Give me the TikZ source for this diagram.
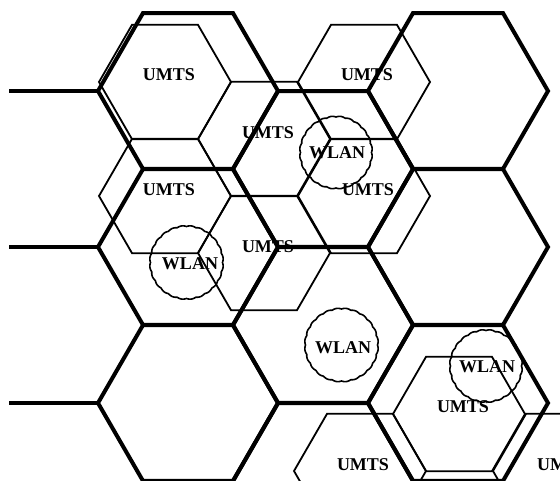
\documentclass[tikz,border=0pt]{standalone}
\usepackage{fontspec}
\setmainfont{Liberation Serif}
\begin{document}
\begin{tikzpicture}[x=1pt, y=-1pt,
  macro/.style={line width=4pt, line join=miter},
  micro/.style={line width=1.8pt, line join=miter},
  lbl/.style={font=\fontsize{18}{20}\selectfont\bfseries, inner sep=0pt},
  hotspot/.style={line width=1.6pt}]
% canvas
\useasboundingbox (0,0) rectangle (560,481);
\clip (0,0) rectangle (560,481);
\fill[white] (0,0) rectangle (560,481);

% flat-topped hexagonal cell: style, centre x, centre y, radius
\newcommand\cellhex[4]{%
  \draw[#1, shift={(#2,#3)}] (0:#4) -- (60:#4) -- (120:#4) -- (180:#4)
    -- (240:#4) -- (300:#4) -- cycle;}
% hot-spot outline with small scallops
\newcommand\hotspotring[3]{%
  \draw[hotspot, shift={(#1,#2)}] plot[domain=0:360, samples=241, smooth]
    (\x:{#3 + 0.9*abs(sin(12*\x))}) -- cycle;}

% macro cell layer
\foreach \cx/\cy in {188/91, 188/247, 188/403,
                     323/169, 323/325, 323/481,
                     458/91, 458/247, 458/403}
  {\cellhex{macro}{\cx}{\cy}{90}}
\coordinate (e1) at (9,91);  \coordinate (v1) at (98,91);
\coordinate (e2) at (9,247); \coordinate (v2) at (98,247);
\coordinate (e3) at (9,403); \coordinate (v3) at (98,403);
\draw[macro] (e1) -- (v1);
\draw[macro] (e2) -- (v2);
\draw[macro] (e3) -- (v3);

% UMTS micro cells, upper cluster
\foreach \cx/\cy in {165/82, 165/196, 264/139, 264/253, 364/82, 364/196}
  {\cellhex{micro}{\cx}{\cy}{66}}
% UMTS micro cells, lower cluster
\foreach \cx/\cy in {459/414, 360/471, 559/471}
  {\cellhex{micro}{\cx}{\cy}{66}}

% cell labels
\node[lbl] (u1) at (169,75)  {UMTS};
\node[lbl] (u2) at (367,75)  {UMTS};
\node[lbl] (u3) at (268,133) {UMTS};
\node[lbl] (u4) at (169,190) {UMTS};
\node[lbl] (u5) at (368,190) {UMTS};
\node[lbl] (u6) at (268,247) {UMTS};
\node[lbl] (u7) at (463,407) {UMTS};
\node[lbl] (u8) at (363,465) {UMTS};
\node[lbl, anchor=west] (u9) at (537,465) {UMTS};

% WLAN hot spots
\hotspotring{336}{152.5}{35.5}
\hotspotring{186.5}{262.5}{36}
\hotspotring{341.5}{345}{36}
\hotspotring{486}{366}{35.5}
\node[lbl] (w1) at (337,153) {WLAN};
\node[lbl] (w2) at (190,264) {WLAN};
\node[lbl] (w3) at (343,348) {WLAN};
\node[lbl] (w4) at (487,367) {WLAN};
\end{tikzpicture}
\end{document}
